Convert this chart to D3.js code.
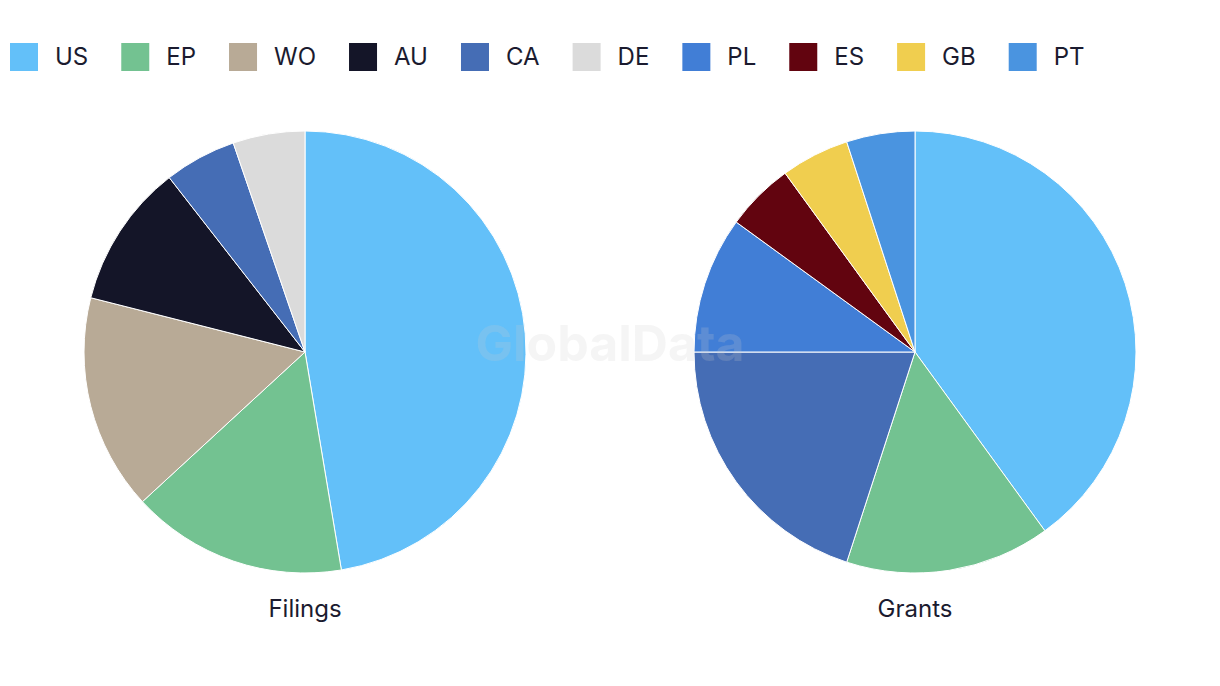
<!DOCTYPE html>
<html><head><meta charset="utf-8">
<script src="https://cdn.jsdelivr.net/npm/d3@7"></script>
<style>body{margin:0;background:#fff;} svg{display:block;font-family:Inter,"Noto Sans",sans-serif;}</style>
</head><body>
<svg id="c" width="1220" height="686"></svg>
<script>
const categories = ["US","EP","WO","AU","CA","DE","PL","ES","GB","PT"];
const colors = ["#63c0f9","#73c291","#b8aa96","#141528","#456db5","#dbdbdb","#417ed6","#62040f","#f0ce4f","#4a94e0"];
const filingsValues = [9,3,3,2,1,1,0,0,0,0];
const grantsValues = [8,3,0,0,4,0,2,1,1,1];
const chartTitles = ["Filings","Grants"];

const svg = d3.select("#c");
const color = d3.scaleOrdinal().domain(categories).range(colors);

// legend
const lg = svg.append("g");
let x = 10;
categories.forEach(c => {
  const g = lg.append("g").attr("transform", `translate(${x},43)`);
  g.append("rect").attr("width",28).attr("height",28).attr("fill",color(c));
  const t = g.append("text").attr("x",45).attr("y",14).attr("dy","0.35em")
    .attr("font-size",24).attr("fill","#1b1b2f").text(c);
  x += 45 + t.node().getComputedTextLength() + 33;
});

const pie = d3.pie().sort(null).value(d => d.v);
const arc = d3.arc().innerRadius(0).outerRadius(221);
[filingsValues, grantsValues].forEach((vals, i) => {
  const cx = i === 0 ? 305 : 915;
  const g = svg.append("g").attr("transform", `translate(${cx},352)`);
  const data = categories.map((c, j) => ({c, v: vals[j]})).filter(d => d.v > 0);
  g.selectAll("path").data(pie(data)).join("path")
    .attr("d", arc).attr("fill", d => color(d.data.c))
    .attr("stroke","#fff").attr("stroke-width",1);
  svg.append("text").attr("x",cx).attr("y",617).attr("text-anchor","middle")
    .attr("font-size",24).attr("fill","#1b1b2f").text(chartTitles[i]);
});

svg.append("text").attr("x",610).attr("y",361).attr("text-anchor","middle")
  .attr("font-size",50).attr("font-weight","bold").attr("fill","#cccccc").attr("fill-opacity",0.2)
  .text("GlobalData");
</script>
</body></html>
